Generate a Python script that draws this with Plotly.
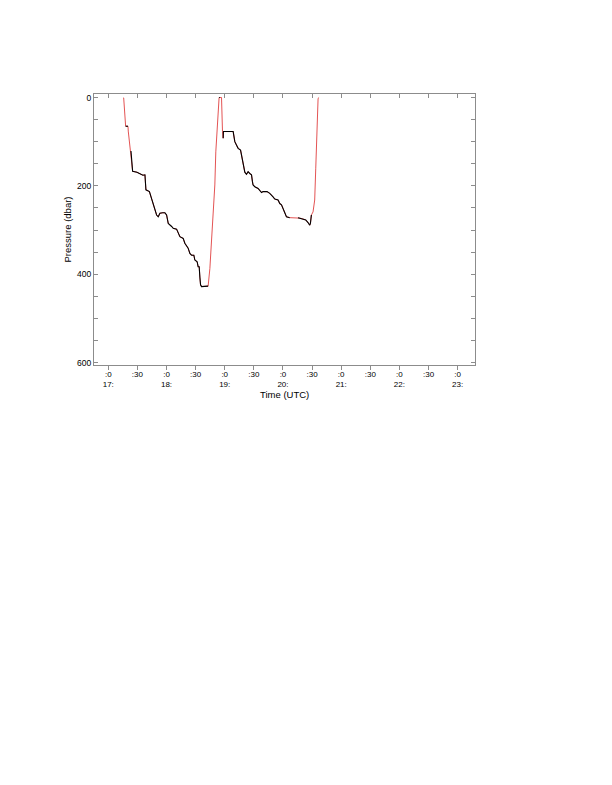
import plotly.graph_objects as go

# Time in minutes after 17:00 UTC, pressure in dbar
minutes = [15.4, 15.9, 17.9, 20.3, 20.6, 22.3, 23.4, 24.1, 25.1, 29.5,
           32.6, 35.7, 37.8, 38.1, 38.8, 42.4, 44.7, 46.3, 48.1, 49.8,
           51.5, 53.2, 56.0, 58.4, 60.1, 61.8, 65.3, 66.9, 70.4, 72.0,
           73.8, 77.2, 78.9, 82.3, 84.1, 85.8, 88.2, 89.2, 91.6, 92.6,
           93.7, 94.4, 95.1, 96.1, 99.5, 102.9, 104.7, 106.4, 108.1, 109.8,
           110.8, 112.2, 113.2, 114.2, 115.0, 116.7, 117.7, 118.4, 118.6, 128.7,
           130.4, 132.2, 133.8, 136.3, 137.3, 138.9, 140.7, 142.4, 144.1, 145.8,
           147.6, 148.6, 149.2, 151.0, 154.4, 157.9, 159.5, 163.6, 166.4, 169.8,
           171.6, 175.0, 176.7, 178.5, 180.1, 181.9, 183.6, 187.0, 195.5, 197.3,
           200.7, 203.5, 205.8, 207.6, 208.3, 209.3, 211.0, 212.7, 213.8, 214.5,
           215.1, 216.2, 217.2]
pressure = [0, 1, 65, 65, 76, 110, 121, 144, 167, 169,
            173, 176, 175, 205, 209, 213, 228, 240, 251, 266,
            270, 262, 261, 261, 266, 285, 292, 296, 298, 307,
            315, 319, 330, 341, 353, 357, 357, 368, 372, 383,
            383, 407, 424, 428, 428, 427, 387, 326, 273, 198,
            123, 62, 17, 0, 0, 0, 77, 92, 77, 77,
            100, 108, 115, 119, 130, 153, 169, 174, 168, 172,
            175, 191, 198, 202, 206, 215, 213, 213, 217, 225,
            230, 232, 240, 243, 252, 262, 270, 272, 272, 273,
            275, 277, 283, 289, 285, 266, 259, 232, 160, 100,
            47, 2, 0]
# 1 = slow (logged, drawn black) sample, 0 = transit only (red)
logged = [0, 0, 1, 1, 0, 0, 1, 1, 1, 1,
          1, 1, 1, 1, 1, 1, 1, 1, 1, 1,
          1, 1, 1, 1, 1, 1, 1, 1, 1, 1,
          1, 1, 1, 1, 1, 1, 1, 1, 1, 1,
          1, 1, 1, 1, 1, 1, 0, 0, 0, 0,
          0, 0, 0, 1, 1, 0, 0, 1, 1, 1,
          1, 1, 1, 1, 1, 1, 1, 1, 1, 1,
          1, 1, 1, 1, 1, 1, 1, 1, 1, 1,
          1, 1, 1, 1, 1, 1, 1, 1, 1, 1,
          1, 1, 1, 1, 1, 1, 0, 0, 0, 0,
          0, 0, 0]
# a black segment is broken where the record has a gap
gap_after = [87]

tick_hours = [17, 17.5, 18, 18.5, 19, 19.5, 20, 20.5, 21, 21.5, 22, 22.5, 23]
tick_text = [":0<br>17:", ":30", ":0<br>18:", ":30", ":0<br>19:", ":30",
             ":0<br>20:", ":30", ":0<br>21:", ":30", ":0<br>22:", ":30",
             ":0<br>23:"]
p_ticks = [0, 200, 400, 600]

hours = [17 + m / 60 for m in minutes]
black_x, black_y = [], []
for i, (h, p, f) in enumerate(zip(hours, pressure, logged)):
    if f:
        black_x.append(h)
        black_y.append(p)
    else:
        black_x.append(None)
        black_y.append(None)
    if i in gap_after:
        black_x.append(None)
        black_y.append(None)

fig = go.Figure()
fig.add_trace(go.Scatter(x=hours, y=pressure, mode="lines",
                         line=dict(color="#e04040", width=0.9), showlegend=False))
fig.add_trace(go.Scatter(x=black_x, y=black_y, mode="lines",
                         line=dict(color="black", width=1.1),
                         connectgaps=False, showlegend=False))
# dummy trace for top axis ticks
fig.add_trace(go.Scatter(x=[17], y=[0], xaxis="x2", mode="markers",
                         marker=dict(opacity=0), showlegend=False, hoverinfo="skip"))

axis_col = "#8c8c8c"
font = dict(family="Liberation Sans, Arial, sans-serif", size=8.5, color="black")
xtick_font = dict(family="Liberation Sans, Arial, sans-serif", size=8, color="black")
title_font = dict(family="Liberation Sans, Arial, sans-serif", size=9.5, color="black")
xr = [16.755, 23.298]
fig.update_layout(
    width=612, height=785,
    margin=dict(l=86, r=145, t=86, b=428),
    paper_bgcolor="white", plot_bgcolor="white",
    font=font,
    xaxis=dict(range=xr, tickvals=tick_hours, ticktext=tick_text,
               ticks="outside", ticklen=4, tickcolor=axis_col,
               ticklabelstandoff=-3, tickfont=xtick_font,
               showline=True, linecolor=axis_col, linewidth=1,
               showgrid=False, zeroline=False, automargin=False),
    xaxis2=dict(range=xr, overlaying="x", side="top", tickvals=tick_hours,
                ticks="inside", ticklen=4, tickcolor=axis_col,
                showticklabels=False, showline=True, linecolor=axis_col,
                showgrid=False, zeroline=False, automargin=False),
    yaxis=dict(range=[605.6, -8], tickvals=p_ticks,
               ticks="inside", ticklen=4, tickcolor=axis_col,
               minor=dict(dtick=50, tick0=0, ticks="inside", ticklen=4, tickcolor=axis_col),
               mirror="ticks", showline=True, linecolor=axis_col, linewidth=1,
               showgrid=False, zeroline=False, automargin=False),
    annotations=[
        dict(text="Time (UTC)", xref="paper", yref="paper", x=0.5,
             y=-(394 - 365) / 271, xanchor="center", yanchor="middle",
             showarrow=False, font=title_font),
        dict(text="Pressure (dbar)", xref="paper", yref="paper",
             x=-(94 - 67) / 381, y=0.5, xanchor="center", yanchor="middle",
             textangle=-90, showarrow=False, font=title_font),
    ],
)
fig.write_html("out.html")
